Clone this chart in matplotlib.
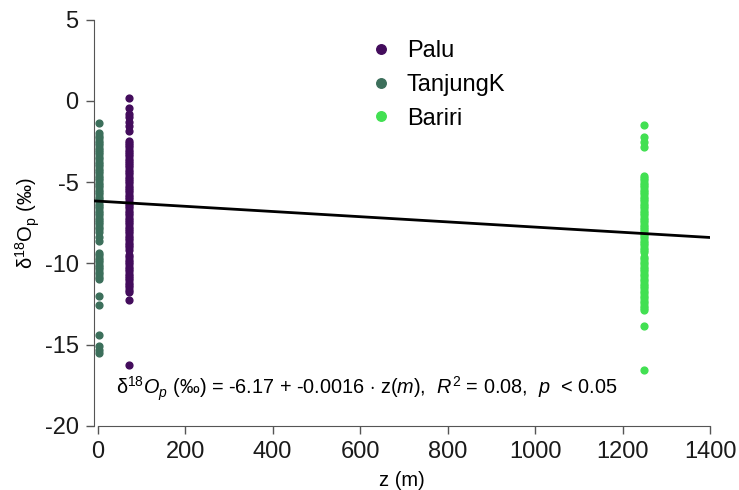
import matplotlib
matplotlib.use('Agg')
import matplotlib.pyplot as plt
import numpy as np

plt.rcParams['font.family'] = ['Liberation Sans', 'DejaVu Sans']
plt.rcParams['mathtext.fontset'] = 'custom'
plt.rcParams['mathtext.rm'] = 'Liberation Sans'
plt.rcParams['mathtext.it'] = 'Liberation Sans:italic'
plt.rcParams['axes.unicode_minus'] = False

# site elevations (m)
z_palu = 72
z_tanjung = 4
z_bariri = 1250

# d18O of precipitation per site (permil)
d18_palu = [0.17, -0.42, -0.78, -1.02, -1.31, -1.55, -1.88,
            -2.45, -2.58, -2.71, -2.86, -3.0, -3.12, -3.27, -3.41, -3.55, -3.7, -3.82,
            -3.97, -4.1, -4.24, -4.4, -4.52, -4.66, -4.8, -4.95, -5.08, -5.22, -5.37,
            -5.5, -5.63, -5.78, -5.92, -6.05, -6.2, -6.33, -6.48, -6.61, -6.75, -6.9,
            -7.05, -7.19, -7.33, -7.46, -7.6, -7.75, -7.88, -8.03, -8.16, -8.3, -8.45,
            -8.58, -8.72, -8.87, -9.0, -9.15,
            -9.5, -9.64, -9.78, -9.93, -10.07, -10.2, -10.36, -10.5, -10.63, -10.78,
            -10.92, -11.05, -11.2, -11.34, -11.48, -11.62, -11.75,
            -12.26, -16.27]
d18_tanjung = [-1.33, -2.0, -2.14, -2.3, -2.44, -2.6, -2.73, -2.88, -3.03, -3.17, -3.3,
               -3.46, -3.6, -3.74, -3.89, -4.03, -4.17, -4.32, -4.46, -4.6, -4.75, -4.9,
               -5.03, -5.18, -5.32, -5.47, -5.6, -5.76, -5.9, -6.04, -6.18, -6.32, -6.47,
               -6.6, -6.75, -6.9, -7.04, -7.19, -7.33, -7.47, -7.6, -7.76, -7.9, -8.05,
               -8.36, -8.65, -9.35, -9.5, -9.65, -9.8, -9.94, -10.1, -10.24, -10.38,
               -10.52, -10.67, -10.82, -10.96, -12.0, -12.55, -14.42, -15.1, -15.35, -15.55]
d18_bariri = [-1.48, -2.2, -2.5, -2.85, -4.62, -4.76, -4.9, -5.05, -5.19, -5.33, -5.47,
              -5.62, -5.76, -5.9, -6.04, -6.19, -6.33, -6.47, -6.62, -6.76, -6.9, -7.04,
              -7.19, -7.33, -7.47, -7.62, -7.76, -7.9, -8.04, -8.19, -8.33, -8.47, -8.62,
              -8.76, -8.9, -9.04, -9.19, -9.33, -9.6, -9.75, -9.9, -10.05, -10.2, -10.34,
              -10.5, -10.65, -10.8, -10.95, -11.1, -11.25, -11.4, -11.55, -11.7, -11.85,
              -12.0, -12.15, -12.3, -12.45, -12.6, -12.75, -12.88, -13.86, -16.57]

# linear fit
intercept = -6.17
slope = -0.0016

fig = plt.figure(figsize=(7.39, 4.90), dpi=100)
ax = fig.add_axes([0.1272, 0.1312, 0.8336, 0.8286])

ax.scatter([z_palu] * len(d18_palu), d18_palu, s=24, color='#430c5c', label='Palu', zorder=3)
ax.scatter([z_tanjung] * len(d18_tanjung), d18_tanjung, s=24, color='#3c6f5b', label='TanjungK', zorder=2)
ax.scatter([z_bariri] * len(d18_bariri), d18_bariri, s=24, color='#42e052', label='Bariri', zorder=2)

xl = np.array([-8.5, 1400])
ax.plot(xl, intercept + slope * xl, color='black', lw=2, zorder=4)

ax.set_xlim(-8.5, 1400)
ax.set_ylim(-20, 5)
ax.set_xticks(range(0, 1401, 200))
ax.set_yticks(range(-20, 6, 5))
for s in ['top', 'right']:
    ax.spines[s].set_visible(False)
ax.spines['left'].set_bounds(-20, 5)
ax.spines['bottom'].set_bounds(0, 1400)
for s in ['left', 'bottom']:
    ax.spines[s].set_color('#555555')
ax.tick_params(labelsize=17, length=6, width=1, color='#555555', labelcolor='#1a1a1a', pad=5)

ax.set_xlabel('z (m)', fontsize=14.5, labelpad=6)
ax.set_ylabel(r'δ$^{18}$O$_\mathrm{p}$ (‰)', fontsize=14.5, labelpad=2)

ax.legend(frameon=False, loc='upper left', bbox_to_anchor=(0.446, 0.95), fontsize=17,
          handlelength=1, handletextpad=0.61, borderpad=0, borderaxespad=0,
          labelspacing=0.5, scatteryoffsets=[0.5], markerscale=1.4)

ax.text(0.443, 0.09,
        r'δ$^{18}$$O_p$ $\mathit{(‰)}$ = -6.17 + -0.0016 $\cdot$ z$(m)$,  $R^2$ = 0.08,  $p$  < 0.05',
        transform=ax.transAxes, ha='center', va='center', fontsize=14.3)

fig.savefig('out.png', dpi=100)
